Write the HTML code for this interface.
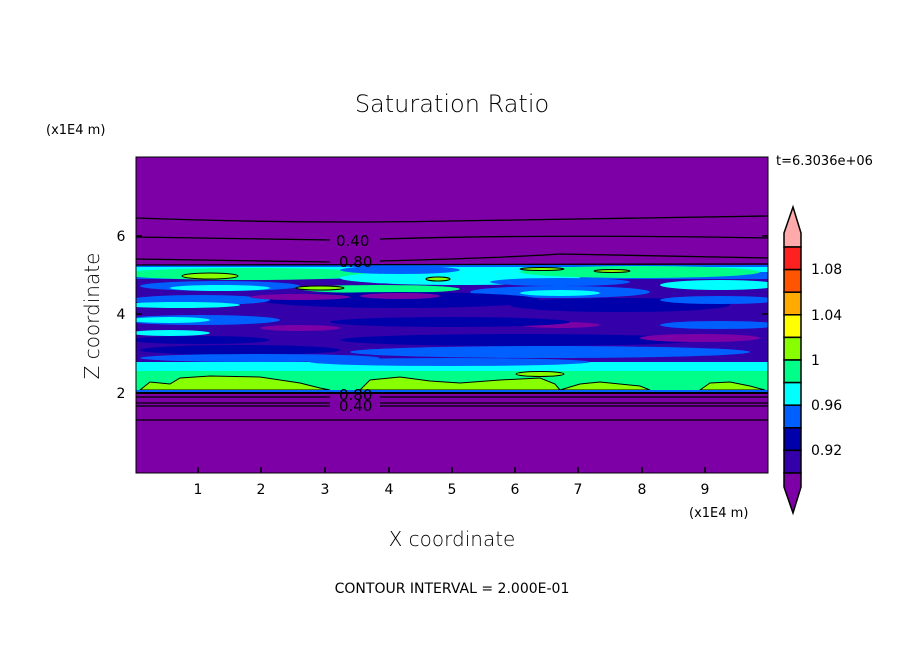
<!DOCTYPE html>
<html><head><style>
body{margin:0;background:#fff;}
svg text{font-family:"DejaVu Sans","Liberation Sans",sans-serif;}
</style></head><body>
<svg width="904" height="654" viewBox="0 0 904 654" xmlns="http://www.w3.org/2000/svg">
<rect width="904" height="654" fill="#fff"/>
<text x="452" y="112" font-size="24" text-anchor="middle" fill="#000" font-weight="300">Saturation Ratio</text>
<text x="46" y="134" font-size="13" fill="#000">(x1E4 m)</text>
<text x="776" y="165" font-size="13" fill="#000">t=6.3036e+06</text>
<defs><clipPath id="c"><rect x="136" y="157" width="632" height="316"/></clipPath></defs>
<g clip-path="url(#c)">
<rect x="136" y="157" width="632" height="316" fill="#7d00a6"/>
<rect x="136" y="265" width="632" height="128" fill="#3300aa"/>
<rect x="136" y="265" width="632" height="14" fill="#0060ff"/>
<rect x="136" y="267" width="632" height="5" fill="#00ffff"/>
<ellipse cx="250" cy="274" rx="130" ry="6" fill="#00ff88"/>
<ellipse cx="460" cy="278" rx="120" ry="7" fill="#00ffff"/>
<ellipse cx="640" cy="272" rx="120" ry="6" fill="#00ff88"/>
<ellipse cx="400" cy="270" rx="60" ry="4" fill="#0060ff"/>
<ellipse cx="560" cy="282" rx="70" ry="4" fill="#0060ff"/>
<ellipse cx="720" cy="285" rx="60" ry="5" fill="#00ffff"/>
<ellipse cx="380" cy="289" rx="80" ry="4" fill="#00ff88"/>
<ellipse cx="220" cy="286" rx="80" ry="5" fill="#0060ff"/>
<ellipse cx="220" cy="288" rx="50" ry="3" fill="#00ffff"/>
<ellipse cx="560" cy="292" rx="90" ry="6" fill="#0060ff"/>
<ellipse cx="560" cy="293" rx="40" ry="3" fill="#00ffff"/>
<ellipse cx="400" cy="300" rx="140" ry="8" fill="#0000aa"/>
<ellipse cx="620" cy="305" rx="110" ry="7" fill="#0000aa"/>
<ellipse cx="200" cy="300" rx="70" ry="5" fill="#0060ff"/>
<ellipse cx="180" cy="305" rx="60" ry="3" fill="#00ffff"/>
<ellipse cx="300" cy="297" rx="50" ry="3" fill="#7d00a6"/>
<ellipse cx="400" cy="296" rx="40" ry="3" fill="#7d00a6"/>
<ellipse cx="720" cy="300" rx="60" ry="4" fill="#0060ff"/>
<ellipse cx="200" cy="320" rx="80" ry="5" fill="#0060ff"/>
<ellipse cx="170" cy="320" rx="40" ry="3" fill="#00ffff"/>
<ellipse cx="300" cy="328" rx="40" ry="3" fill="#7d00a6"/>
<ellipse cx="560" cy="325" rx="40" ry="3" fill="#7d00a6"/>
<ellipse cx="720" cy="325" rx="60" ry="4" fill="#0060ff"/>
<ellipse cx="450" cy="322" rx="120" ry="5" fill="#0000aa"/>
<ellipse cx="200" cy="340" rx="70" ry="4" fill="#0000aa"/>
<ellipse cx="170" cy="333" rx="40" ry="3" fill="#00ffff"/>
<ellipse cx="520" cy="340" rx="180" ry="6" fill="#0000aa"/>
<ellipse cx="700" cy="338" rx="60" ry="4" fill="#7d00a6"/>
<ellipse cx="240" cy="350" rx="100" ry="5" fill="#0000aa"/>
<ellipse cx="550" cy="352" rx="200" ry="6" fill="#0060ff"/>
<ellipse cx="260" cy="358" rx="120" ry="4" fill="#0060ff"/>
<rect x="136" y="362" width="632" height="31" fill="#00ffff"/>
<ellipse cx="450" cy="362" rx="140" ry="4" fill="#0060ff"/>
<rect x="136" y="371" width="632" height="19" fill="#00ff88"/>
<path d="M140 390 L150 382 L170 384 L180 378 L210 376 L260 377 L300 383 L320 388 L330 390 Z" fill="#88ff00" stroke="#000" stroke-width="1"/>
<path d="M360 390 L370 380 L400 377 L430 381 L460 383 L500 380 L540 378 L555 384 L560 390 Z" fill="#88ff00" stroke="#000" stroke-width="1"/>
<path d="M560 390 L580 384 L600 382 L640 386 L650 390 Z" fill="#88ff00" stroke="#000" stroke-width="1"/>
<path d="M700 390 L710 383 L730 382 L750 386 L765 390 Z" fill="#88ff00" stroke="#000" stroke-width="1"/>
<ellipse cx="540" cy="374" rx="24" ry="2.5" fill="#88ff00" stroke="#000" stroke-width="1"/>
<ellipse cx="210" cy="276" rx="28" ry="3" fill="#88ff00" stroke="#000" stroke-width="1"/>
<ellipse cx="320" cy="288" rx="24" ry="2" fill="#88ff00" stroke="#000" stroke-width="1"/>
<ellipse cx="438" cy="279" rx="12" ry="2" fill="#88ff00" stroke="#000" stroke-width="1"/>
<ellipse cx="542" cy="269" rx="22" ry="1.5" fill="#88ff00" stroke="#000" stroke-width="1"/>
<ellipse cx="612" cy="271" rx="18" ry="1.5" fill="#88ff00" stroke="#000" stroke-width="1"/>
<rect x="136" y="390" width="632" height="3" fill="#0060ff"/>
<g stroke="#000" fill="none" stroke-width="1.3">
<path d="M136 218 Q300 224 450 221 Q600 218 768 216"/>
<path d="M136 237 L330 240 M380 239 Q550 234 768 238"/>
<path d="M136 259 L330 262 M380 261 Q500 258 560 254 Q650 256 768 258"/>
<path d="M136 265 L768 264"/>
<path d="M136 393 L768 393" stroke-width="2"/>
<path d="M136 397 L330 397 M380 397 L768 397"/>
<path d="M136 403 L330 403 M380 403 L768 403"/>
<path d="M136 406 L330 406 M380 406 L768 406"/>
<path d="M136 420 L768 420"/>
</g>
<g font-size="15" fill="#000">
<text x="336" y="246">0.40</text>
<text x="339" y="267">0.80</text>
<text x="339" y="400">0.80</text>
<text x="339" y="411">0.40</text>
</g>
</g>
<rect x="136" y="157" width="632" height="316" fill="none" stroke="#000" stroke-width="1"/>
<g stroke="#000" stroke-width="1.5">
<path d="M198 473v-6M261 473v-6M325 473v-6M389 473v-6M452 473v-6M515 473v-6M578 473v-6M642 473v-6M705 473v-6"/>
<path d="M136 393h6M136 314h6M136 236h6M768 393h-6M768 314h-6M768 236h-6"/>
</g>
<g font-size="14" fill="#000" text-anchor="middle">
<text x="198" y="494">1</text><text x="261" y="494">2</text><text x="325" y="494">3</text><text x="389" y="494">4</text><text x="452" y="494">5</text><text x="515" y="494">6</text><text x="578" y="494">7</text><text x="642" y="494">8</text><text x="705" y="494">9</text>
<text x="121" y="398">2</text><text x="121" y="319">4</text><text x="121" y="241">6</text>
</g>
<text x="689" y="517" font-size="13" fill="#000">(x1E4 m)</text>
<text x="452" y="546" font-size="20" text-anchor="middle" fill="#000" font-weight="300">X coordinate</text>
<text transform="translate(99,316) rotate(-90)" font-size="20" text-anchor="middle" fill="#000" font-weight="300">Z coordinate</text>
<text x="452" y="593" font-size="14" text-anchor="middle" fill="#000">CONTOUR INTERVAL = 2.000E-01</text>
<g stroke="#000" stroke-width="1.5">
<path d="M793 207 L784 233 L784 247 L801 247 L801 233 Z" fill="#ffaaaa"/>
<rect x="784" y="247" width="17" height="22.6" fill="#ff2020"/>
<rect x="784" y="269.6" width="17" height="22.6" fill="#ff5500"/>
<rect x="784" y="292.2" width="17" height="22.6" fill="#ffaa00"/>
<rect x="784" y="314.8" width="17" height="22.6" fill="#ffff00"/>
<rect x="784" y="337.4" width="17" height="22.6" fill="#88ff00"/>
<rect x="784" y="360" width="17" height="22.6" fill="#00ff88"/>
<rect x="784" y="382.6" width="17" height="22.6" fill="#00ffff"/>
<rect x="784" y="405.2" width="17" height="22.6" fill="#0060ff"/>
<rect x="784" y="427.8" width="17" height="22.6" fill="#0000aa"/>
<rect x="784" y="450.4" width="17" height="22.6" fill="#3300aa"/>
<path d="M784 473 L801 473 L801 487 L793 513 L784 487 Z" fill="#7d00a6"/>
</g>
<g font-size="14" fill="#000">
<text x="811" y="274">1.08</text>
<text x="811" y="320">1.04</text>
<text x="811" y="365">1</text>
<text x="811" y="410">0.96</text>
<text x="811" y="455">0.92</text>
</g>
</svg>
</body></html>
